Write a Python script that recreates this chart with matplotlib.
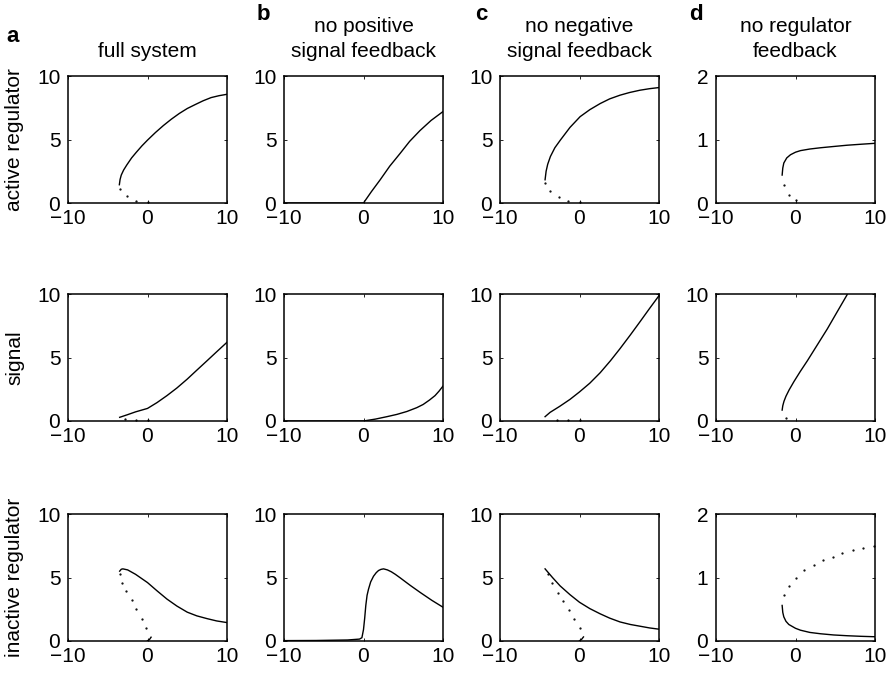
import matplotlib.pyplot as plt
import numpy as np

plt.rcParams['font.family'] = ['Liberation Sans', 'DejaVu Sans']
plt.rcParams['font.size'] = 15

col_titles = ['full system', 'no positive\nsignal feedback',
              'no negative\nsignal feedback', 'no regulator\nfeedback']
col_letters = ['a', 'b', 'c', 'd']
row_labels = ['active regulator', 'signal', 'inactive regulator']
ymax = [[10, 10, 10, 2], [10, 10, 10, 10], [10, 10, 10, 2]]

# stable branches (solid)
solid = {
    # column a, full system
    (0, 0): ([-3.54, -3.45, -3.3, -3.0, -2.6, -2.0, -1.4, -0.7, 0.0, 1.0, 2.0, 3.0, 4.0, 5.0,
              6.0, 7.0, 8.0, 9.0, 10.0],
             [1.44, 1.85, 2.2, 2.6, 3.0, 3.55, 4.0, 4.5, 4.95, 5.55, 6.1, 6.6, 7.05, 7.44,
              7.75, 8.05, 8.3, 8.45, 8.56]),
    (1, 0): ([-3.5, -2.5, -1.5, 0.0, 1.2, 2.45, 3.7, 5.0, 6.2, 7.5, 8.7, 10.0],
             [0.29, 0.5, 0.72, 0.99, 1.45, 2.0, 2.6, 3.3, 4.0, 4.75, 5.45, 6.2]),
    (2, 0): ([-3.5, -3.3, -3.1, -2.5, -1.5, 0.0, 1.2, 2.45, 3.7, 5.0, 6.2, 7.5, 8.7, 10.0],
             [5.5, 5.65, 5.68, 5.6, 5.25, 4.6, 3.95, 3.3, 2.75, 2.27, 1.98, 1.76, 1.58, 1.45]),
    # column b, no positive signal feedback
    (0, 1): ([-10.0, 0.0, 1.0, 2.1, 3.3, 4.6, 5.8, 7.1, 8.5, 10.0],
             [0.0, 0.0, 0.9, 1.83, 2.9, 3.9, 4.85, 5.7, 6.5, 7.2]),
    (1, 1): ([-10.0, 0.0, 1.5, 2.94, 4.2, 5.46, 6.7, 7.5, 8.3, 9.0, 9.5, 10.0],
             [0.0, 0.0, 0.15, 0.34, 0.52, 0.75, 1.05, 1.3, 1.65, 2.0, 2.35, 2.75]),
    (2, 1): ([-10.0, -6.0, -2.0, -0.5, -0.2, 0.0, 0.15, 0.29, 0.45, 0.63, 0.9, 1.26, 1.6, 1.89,
              2.2, 2.52, 3.0, 3.5, 4.0, 4.62, 5.3, 5.9, 7.14, 8.6, 10.0],
             [0.03, 0.04, 0.08, 0.15, 0.26, 0.9, 1.8, 2.8, 3.6, 4.08, 4.65, 5.1, 5.38, 5.55,
              5.64, 5.68, 5.6, 5.45, 5.25, 4.97, 4.65, 4.37, 3.82, 3.2, 2.66]),
    # column c, no negative signal feedback
    (0, 2): ([-4.33, -4.2, -4.0, -3.66, -3.1, -2.4, -1.2, 0.08, 1.3, 2.6, 3.8, 5.1, 6.3, 7.6, 8.8, 10.0],
             [1.83, 2.5, 3.05, 3.66, 4.35, 4.96, 5.95, 6.8, 7.35, 7.83, 8.2, 8.49, 8.7, 8.88, 9.0, 9.09]),
    (1, 2): ([-4.33, -3.7, -2.5, -1.2, 0.0, 1.3, 2.6, 3.9, 5.1, 6.4, 7.65, 8.8, 10.0],
             [0.34, 0.68, 1.15, 1.7, 2.29, 2.98, 3.8, 4.75, 5.7, 6.78, 7.85, 8.85, 9.87]),
    (2, 2): ([-4.33, -3.4, -2.44, -1.2, 0.0, 1.3, 2.6, 3.8, 5.1, 6.4, 7.65, 8.8, 10.0],
             [5.68, 5.0, 4.34, 3.65, 3.05, 2.55, 2.14, 1.8, 1.5, 1.3, 1.16, 1.03, 0.93]),
    # column d, no regulator feedback
    (0, 3): ([-1.68, -1.6, -1.47, -1.1, -0.63, 0.0, 0.63, 1.8, 3.15, 4.8, 6.5, 8.2, 10.0],
             [0.44, 0.55, 0.63, 0.71, 0.76, 0.8, 0.825, 0.85, 0.87, 0.89, 0.91, 0.925, 0.94]),
    (1, 3): ([-1.68, -1.6, -1.45, -1.2, -0.8, -0.2, 0.6, 1.5, 2.7, 4.0, 5.2, 6.5],
             [0.86, 1.2, 1.55, 1.95, 2.45, 3.1, 3.9, 4.75, 5.95, 7.25, 8.55, 9.95]),
    (2, 3): ([-1.68, -1.6, -1.47, -1.2, -0.84, 0.0, 0.63, 1.8, 3.15, 4.8, 6.5, 8.2, 10.0],
             [0.56, 0.45, 0.38, 0.31, 0.26, 0.2, 0.17, 0.135, 0.114, 0.095, 0.083, 0.074, 0.067]),
}

# unstable branches (dotted)
dotted = {
    (0, 0): ([-3.5, -2.6, -1.4, 0.0],
             [1.12, 0.52, 0.18, 0.08]),
    (1, 0): ([-2.8, -1.4, 0.0], [0.12, 0.08, 0.05]),
    (2, 0): ([-3.5, -3.2, -2.66, -2.0, -1.4, -0.73, -0.15],
             [5.3, 4.6, 3.9, 3.2, 2.5, 1.76, 1.06]),
    (0, 2): ([-4.3, -3.7, -2.6, -1.4, 0.0], [1.6, 0.91, 0.44, 0.18, 0.08]),
    (1, 2): ([-2.8, -1.4, 0.0], [0.08, 0.06, 0.05]),
    (2, 2): ([-4.0, -3.4, -2.7, -2.06, -1.34, -0.67, 0.0],
             [5.25, 4.55, 3.8, 3.15, 2.45, 1.76, 1.03]),
    (0, 3): ([-1.4, -0.84, 0.0], [0.28, 0.13, 0.04]),
    (1, 3): ([-1.2], [0.26]),
    (2, 3): ([-1.4, -0.8, 0.0, 1.13, 2.3, 3.5, 4.7, 5.9, 7.2, 8.5, 9.9],
             [0.72, 0.87, 1.0, 1.12, 1.2, 1.28, 1.33, 1.38, 1.43, 1.46, 1.5]),
}

# small stable piece near the origin
hook = {
    (2, 0): ([0.0, 0.25, 0.45], [0.02, 0.12, 0.3]),
    (2, 2): ([0.0, 0.25, 0.5], [0.02, 0.12, 0.32]),
}

fig = plt.figure(figsize=(8.94, 6.8), dpi=100)

lefts = [68, 284, 500, 716]
tops = [76, 294, 514]
W, H = 894.0, 680.0
aw, ah = 159, 127

for r in range(3):
    for c in range(4):
        ax = fig.add_axes([lefts[c] / W, 1 - (tops[r] + ah) / H, aw / W, ah / H])
        if (r, c) in solid:
            x, y = solid[(r, c)]
            ax.plot(x, y, '-', color='k', lw=1.0)
        if (r, c) in dotted:
            x, y = dotted[(r, c)]
            ax.plot(x, y, '.', color='k', ms=1.2)
        if (r, c) in hook:
            x, y = hook[(r, c)]
            ax.plot(x, y, '-', color='k', lw=1.0)
        ax.set_xlim(-10, 10)
        ax.set_ylim(0, ymax[r][c])
        ax.set_xticks([-10, 0, 10])
        if ymax[r][c] == 2:
            ax.set_yticks([0, 1, 2])
        else:
            ax.set_yticks([0, 5, 10])
        ax.tick_params(direction='in', length=2.5, width=0.6, top=True, right=True,
                       labelsize=15)
        ax.tick_params(axis='x', pad=4.5)
        ax.tick_params(axis='y', pad=5.5)
        for s in ax.spines.values():
            s.set_linewidth(1.1)
        if r == 0:
            ax.set_title(col_titles[c], fontsize=15, pad=14, linespacing=1.35)

for r in range(3):
    fig.text(15 / W, 1 - (tops[r] + ah / 2) / H, row_labels[r], rotation=90,
             ha='center', va='center', fontsize=15)

letter_pos = [(13, 37), (263, 15), (481, 15), (696, 15)]
for (lx, ly), let in zip(letter_pos, col_letters):
    fig.text(lx / W, 1 - ly / H, let, fontsize=16, fontweight='bold', ha='center', va='center')

fig.savefig('out.png', dpi=100)
